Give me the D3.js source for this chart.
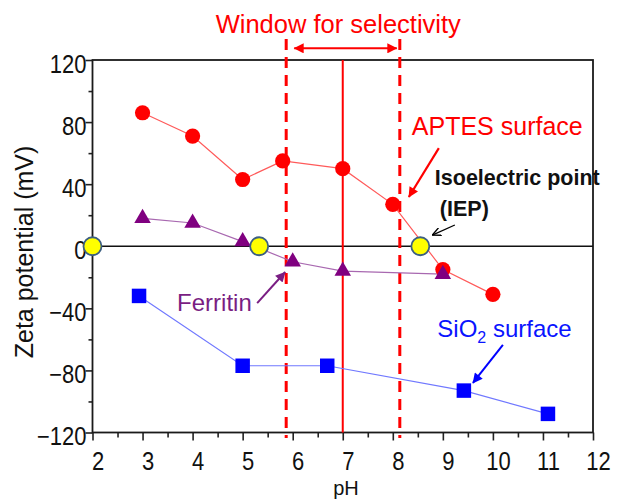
<!DOCTYPE html>
<html><head><meta charset="utf-8">
<script src="https://cdn.jsdelivr.net/npm/d3@7"></script>
<style>body{margin:0;background:#fff}svg{display:block;font-family:"Liberation Sans",Arial,sans-serif}</style>
</head><body><svg id="c" width="620" height="499"></svg>
<script>
// ---- data ----
const aptesPH=[3,4,5,5.8,7,8,9,10];
const aptesZeta=[86,71,43,55,50,27,-15,-31];
const ferritinPH=[3,4,5,6,7,9];
const ferritinZeta=[18,15,3,-10,-16,-18];
const sio2PH=[2.93,5,6.69,9.42,11.1];
const sio2Zeta=[-32,-77,-77,-93,-108];
const iepPH=[2,5.33,8.55];
const iepZeta=[0,0,0];
const xTicks=[2,3,4,5,6,7,8,9,10,11,12];
const yTicks=[-120,-80,-40,0,40,80,120];
const windowPH=[5.87,8.14];
const neutralPH=[7];
const titleText="Window for selectivity";

const svg=d3.select("#c");
const x=d3.scaleLinear().domain([2,12]).range([92.5,593]);
const y=d3.scaleLinear().domain([-120,120]).range([432.5,60]);
const zip=(a,b)=>a.map((v,i)=>[v,b[i]]);

// arrow markers
const defs=svg.append("defs");
function mk(id,color,open){
  const m=defs.append("marker").attr("id",id).attr("viewBox","0 0 10 10")
    .attr("refX",9.5).attr("refY",5).attr("markerUnits","userSpaceOnUse")
    .attr("markerWidth",open?9:12).attr("markerHeight",open?9:10)
    .attr("orient","auto-start-reverse");
  if(open) m.append("path").attr("d","M0,0.5L9.5,5L0,9.5").attr("fill","none").attr("stroke",color).attr("stroke-width",1.6);
  else m.append("path").attr("d","M0,0L10,5L0,10z").attr("fill",color);
}
mk("aR","#ff0000");mk("aP","#7a1e83");mk("aB","#0000ff");mk("aK","#000",true);

// axes
const xAxis=svg.append("g").attr("transform",`translate(0,${y(-120)})`)
  .call(d3.axisBottom(x).tickValues(xTicks).tickSize(8).tickFormat(d3.format("d")));
svg.append("g").attr("transform",`translate(0,${y(-120)})`)
  .call(d3.axisBottom(x).tickValues(d3.range(2.5,12,1)).tickSize(5).tickFormat(""))
  .call(g=>g.select(".domain").remove());
const yAxis=svg.append("g").attr("transform",`translate(${x(2)},0)`)
  .call(d3.axisLeft(y).tickValues(yTicks).tickSize(7));
svg.append("g").attr("transform",`translate(${x(2)},0)`)
  .call(d3.axisLeft(y).tickValues(d3.range(-100,120,40)).tickSize(4).tickFormat(""))
  .call(g=>g.select(".domain").remove());
svg.selectAll(".domain").remove();
svg.selectAll(".tick line").attr("stroke","#222").attr("stroke-width",1.6);
xAxis.selectAll("text").attr("x",0).attr("y",37.5).attr("dy",null)
  .attr("transform","translate(5,0) scale(0.88,1)")
  .attr("font-size",25).attr("font-family","'Liberation Sans',Arial,sans-serif").attr("fill","#111");
yAxis.selectAll("text").attr("x",0).attr("y",3.5).attr("dy","0.35em")
  .attr("transform","translate(-6,0) scale(0.88,1)")
  .attr("font-size",25).attr("font-family","'Liberation Sans',Arial,sans-serif").attr("fill","#111");

// frame
svg.append("rect").attr("x",x(2)).attr("y",y(120)).attr("width",x(12)-x(2)).attr("height",y(-120)-y(120))
  .attr("fill","none").attr("stroke","#1a1a1a").attr("stroke-width",1.8);

// zero line
svg.append("line").attr("x1",x(2)).attr("x2",x(12)).attr("y1",y(0)).attr("y2",y(0))
  .attr("stroke","#111").attr("stroke-width",1.6);

// pH 7 line
svg.selectAll(".neutral").data(neutralPH).join("line")
  .attr("x1",d=>x(d)).attr("x2",d=>x(d)).attr("y1",y(120)).attr("y2",y(-120))
  .attr("stroke","#ff0000").attr("stroke-width",2);

// window dashed lines
svg.selectAll(".win").data(windowPH).join("line")
  .attr("x1",d=>x(d)).attr("x2",d=>x(d)).attr("y1",y(133.5)).attr("y2",y(-123.5))
  .attr("stroke","#ff0000").attr("stroke-width",3).attr("stroke-dasharray","11,7");

// double arrow
svg.append("line").attr("x1",x(6.03)).attr("x2",x(8.08)).attr("y1",y(127.5)).attr("y2",y(127.5))
  .attr("stroke","#ff0000").attr("stroke-width",2)
  .attr("marker-start","url(#aR)").attr("marker-end","url(#aR)");

svg.append("text").attr("x",x(6.91)).attr("y",y(137.4)).attr("text-anchor","middle")
  .attr("font-size",25.5).attr("fill","#ff0000").text(titleText);

// data lines
const line=d3.line().x(d=>x(d[0])).y(d=>y(d[1]));
svg.append("path").attr("d",line(zip(aptesPH,aptesZeta))).attr("fill","none").attr("stroke","#ff5a5a").attr("stroke-width",1.2);
svg.append("path").attr("d",line(zip(ferritinPH,ferritinZeta))).attr("fill","none").attr("stroke","#a868b0").attr("stroke-width",1.2);
svg.append("path").attr("d",line(zip(sio2PH,sio2Zeta))).attr("fill","none").attr("stroke","#7078ff").attr("stroke-width",1.2);

// markers
svg.selectAll(".ap").data(zip(aptesPH,aptesZeta)).join("circle")
  .attr("cx",d=>x(d[0])).attr("cy",d=>y(d[1])).attr("r",7.6).attr("fill","#ff0000");
svg.selectAll(".fe").data(zip(ferritinPH,ferritinZeta)).join("path")
  .attr("transform",d=>`translate(${x(d[0])},${y(d[1])})`)
  .attr("d",d3.symbol(d3.symbolTriangle,118)).attr("fill","#800080");
svg.selectAll(".si").data(zip(sio2PH,sio2Zeta)).join("path")
  .attr("transform",d=>`translate(${x(d[0])},${y(d[1])})`)
  .attr("d",d3.symbol(d3.symbolSquare,210)).attr("fill","#0000ff");
svg.selectAll(".iep").data(zip(iepPH,iepZeta)).join("circle")
  .attr("cx",d=>x(d[0])).attr("cy",d=>y(d[1])).attr("r",9).attr("fill","#ffff00")
  .attr("stroke","#3c5f82").attr("stroke-width",1.8);

// annotations
function arrow(p1,p2,color,w,m){
  svg.append("line").attr("x1",x(p1[0])).attr("y1",y(p1[1])).attr("x2",x(p2[0])).attr("y2",y(p2[1]))
    .attr("stroke",color).attr("stroke-width",w).attr("marker-end",`url(#${m})`);
}
svg.append("text").attr("x",x(8.38)).attr("y",y(71.7)).attr("font-size",25).attr("fill","#ff0000").text("APTES surface");
arrow([8.92,63.2],[8.32,31.7],"#ff0000",2.2,"aR");
svg.append("text").attr("x",x(8.84)).attr("y",y(39.5)).attr("font-size",21.5).attr("font-weight","bold").attr("fill","#111").text("Isoelectric point");
svg.append("text").attr("x",x(8.94)).attr("y",y(19.5)).attr("font-size",21.5).attr("font-weight","bold").attr("fill","#111").text("(IEP)");
arrow([9.24,13.7],[8.79,7.2],"#000",1.3,"aK");
svg.append("text").attr("x",x(3.69)).attr("y",y(-41.7)).attr("font-size",24).attr("fill","#7a1e83").text("Ferritin");
arrow([5.29,-36.6],[5.85,-16.6],"#7a1e83",2,"aP");
const st=svg.append("text").attr("x",x(8.89)).attr("y",y(-58.5)).attr("font-size",24).attr("fill","#0a14ff");
st.append("tspan").text("SiO");
st.append("tspan").attr("font-size",16).attr("dy",6).text("2");
st.append("tspan").attr("dy",-6).text(" surface");
arrow([10.2,-63.6],[9.6,-88.1],"#0000ff",2,"aB");

// axis titles
svg.append("text").attr("transform",`translate(33,252) rotate(-90)`).attr("text-anchor","middle")
  .attr("font-size",25).attr("fill","#111").text("Zeta potential (mV)");
svg.append("text").attr("x",346).attr("y",495).attr("text-anchor","middle")
  .attr("font-size",20).attr("fill","#111").text("pH");
</script></body></html>
